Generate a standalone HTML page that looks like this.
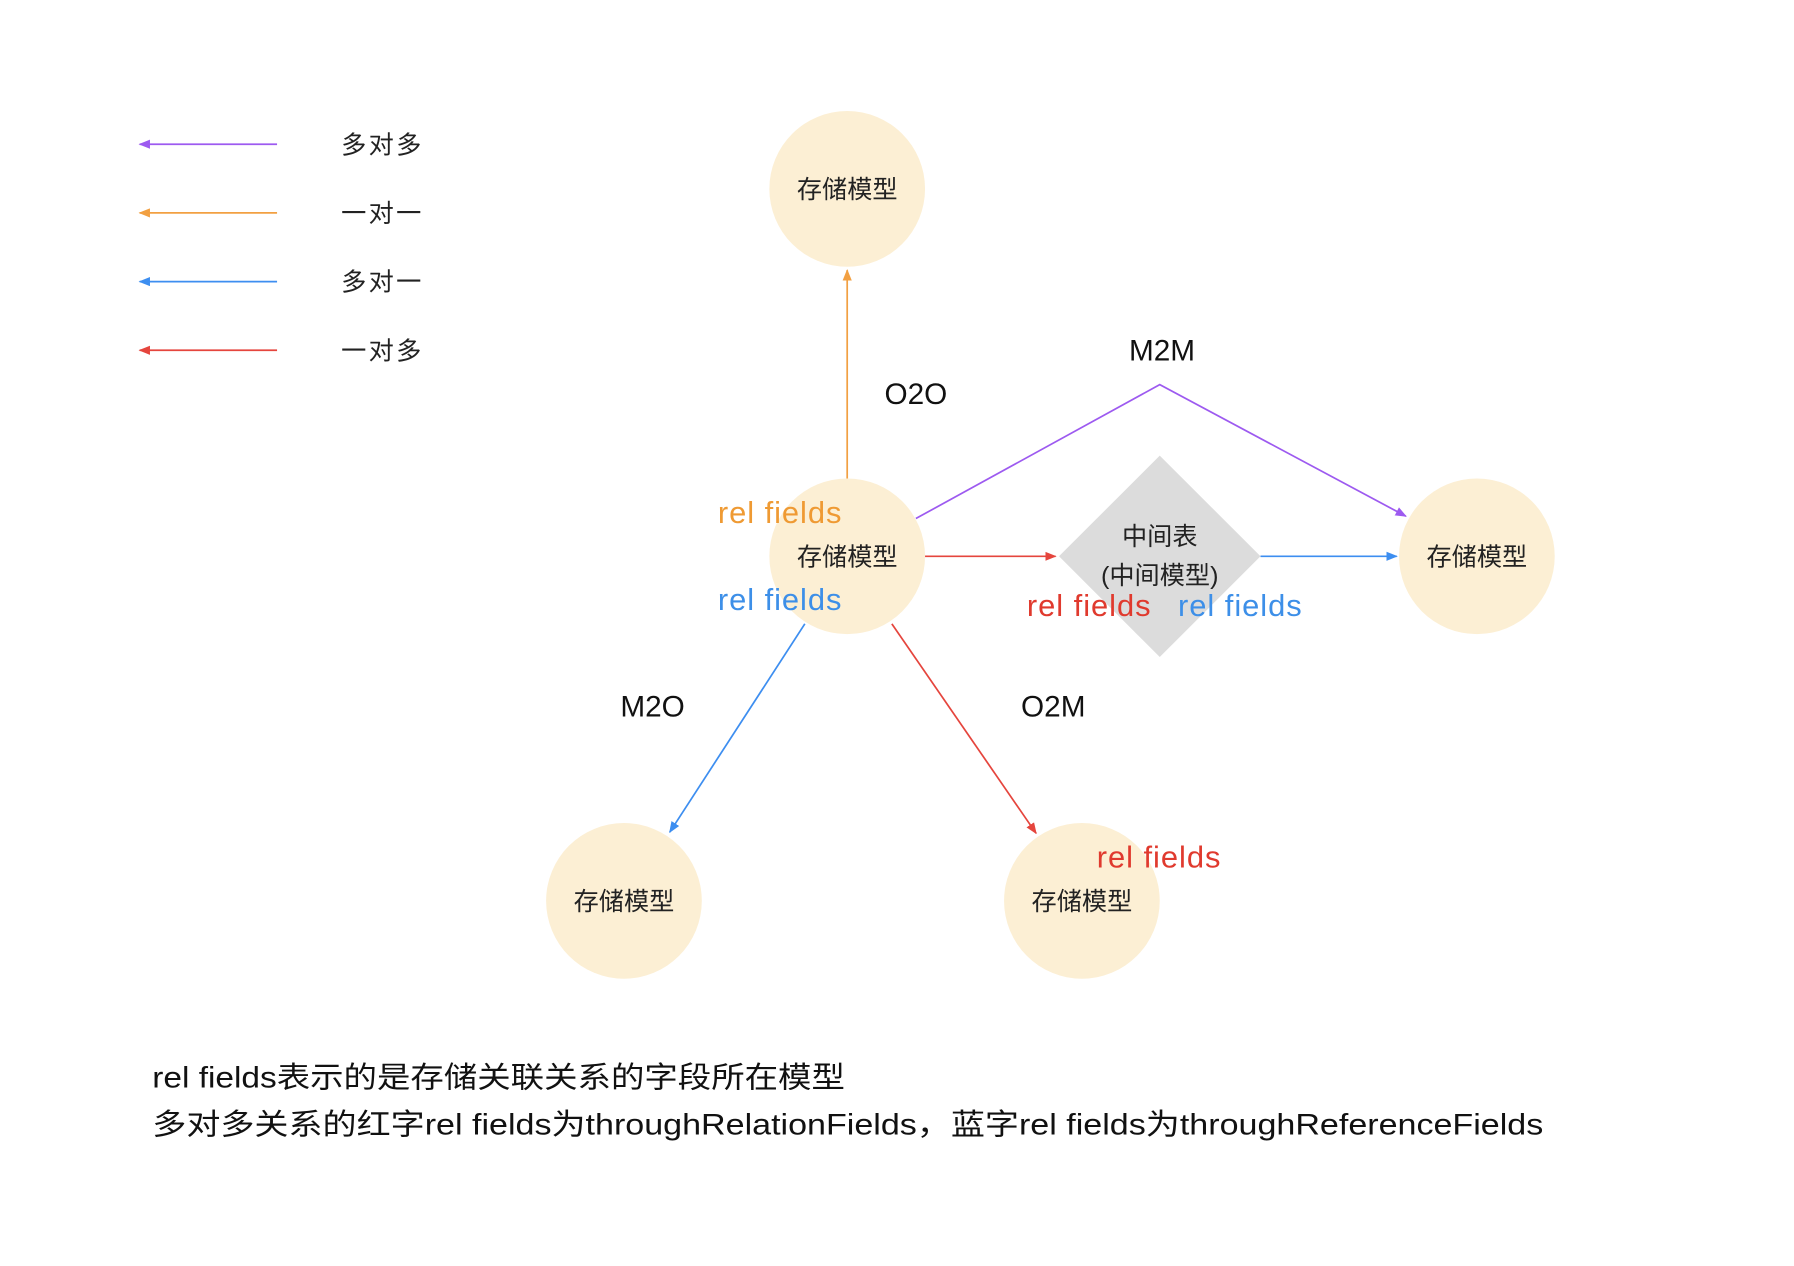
<!DOCTYPE html>
<html><head><meta charset="utf-8"><style>
html,body{margin:0;padding:0;background:#fff;width:1794px;height:1266px;overflow:hidden}
svg text{font-family:"Liberation Sans","Noto Sans CJK SC",sans-serif}
</style></head><body>
<svg width="1794" height="1266" viewBox="0 0 1567 1106" preserveAspectRatio="none" xmlns="http://www.w3.org/2000/svg">
<defs>
<marker id="ap" markerWidth="10" markerHeight="8" refX="9" refY="4" orient="auto" markerUnits="userSpaceOnUse"><path d="M0,0L10,4L0,8z" fill="#9d5af0"/></marker>
<marker id="ao" markerWidth="10" markerHeight="8" refX="9" refY="4" orient="auto" markerUnits="userSpaceOnUse"><path d="M0,0L10,4L0,8z" fill="#f2a042"/></marker>
<marker id="ab" markerWidth="10" markerHeight="8" refX="9" refY="4" orient="auto" markerUnits="userSpaceOnUse"><path d="M0,0L10,4L0,8z" fill="#3d8ef0"/></marker>
<marker id="ar" markerWidth="10" markerHeight="8" refX="9" refY="4" orient="auto" markerUnits="userSpaceOnUse"><path d="M0,0L10,4L0,8z" fill="#e5453d"/></marker>
</defs>
<g stroke-width="1.5" fill="none">
<line x1="242" y1="126" x2="122" y2="126" stroke="#9d5af0" marker-end="url(#ap)"/>
<line x1="242" y1="186" x2="122" y2="186" stroke="#f2a042" marker-end="url(#ao)"/>
<line x1="242" y1="246" x2="122" y2="246" stroke="#3d8ef0" marker-end="url(#ab)"/>
<line x1="242" y1="306" x2="122" y2="306" stroke="#e5453d" marker-end="url(#ar)"/>
</g>
<g font-size="22" fill="#222">
<text x="298" y="134" textLength="70">多对多</text><text x="298" y="194" textLength="70">一对一</text>
<text x="298" y="254" textLength="70">多对一</text><text x="298" y="314" textLength="70">一对多</text>
</g>
<g fill="#fcefd4">
<circle cx="740" cy="165" r="68"/><circle cx="740" cy="486" r="68"/>
<circle cx="1290" cy="486" r="68"/><circle cx="545" cy="787" r="68"/><circle cx="945" cy="787" r="68"/>
</g>
<polygon points="1013,398 1101,486 1013,574 925,486" fill="#dcdcdc"/>
<g stroke-width="1.5" fill="none">
<line x1="740" y1="418" x2="740" y2="236" stroke="#f2a042" marker-end="url(#ao)"/>
<polyline points="800,453 1013,336 1228,451" stroke="#9d5af0" marker-end="url(#ap)"/>
<line x1="808" y1="486" x2="922" y2="486" stroke="#e5453d" marker-end="url(#ar)"/>
<line x1="1101" y1="486" x2="1220" y2="486" stroke="#3d8ef0" marker-end="url(#ab)"/>
<line x1="703" y1="545" x2="585" y2="727" stroke="#3d8ef0" marker-end="url(#ab)"/>
<line x1="779" y1="545" x2="905" y2="728" stroke="#e5453d" marker-end="url(#ar)"/>
</g>
<g font-size="22" fill="#222" text-anchor="middle">
<text x="740" y="173">存储模型</text><text x="740" y="494">存储模型</text>
<text x="1290" y="494">存储模型</text><text x="545" y="795">存储模型</text><text x="945" y="795">存储模型</text>
<text x="1013" y="476">中间表</text><text x="1013" y="510">(中间模型)</text>
</g>
<g font-size="26" fill="#111" text-anchor="middle">
<text x="800" y="353">O2O</text><text x="1015" y="315">M2M</text>
<text x="570" y="626">M2O</text><text x="920" y="626">O2M</text>
</g>
<g font-size="27">
<text x="627" y="457" fill="#ef9a33" textLength="108">rel fields</text>
<text x="627" y="533" fill="#3d8fe8" textLength="108">rel fields</text>
<text x="897" y="538" fill="#e03a2e" textLength="108">rel fields</text>
<text x="1029" y="538" fill="#3d8fe8" textLength="108">rel fields</text>
<text x="958" y="758" fill="#e03a2e" textLength="108">rel fields</text>
</g>
<g font-size="26" fill="#111">
<text x="133" y="950" textLength="605" lengthAdjust="spacingAndGlyphs">rel fields表示的是存储关联关系的字段所在模型</text>
<text x="133" y="991" textLength="1215" lengthAdjust="spacingAndGlyphs">多对多关系的红字rel fields为throughRelationFields，蓝字rel fields为throughReferenceFields</text>
</g>
</svg>
</body></html>
